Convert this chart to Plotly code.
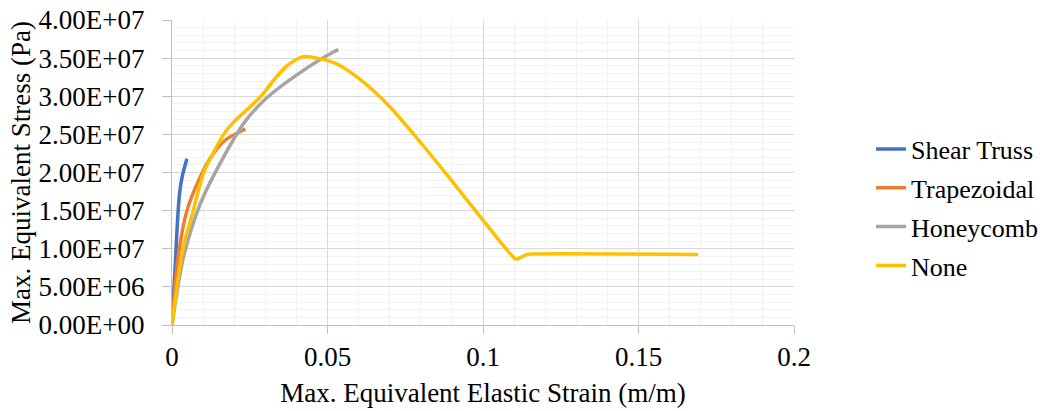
import plotly.graph_objects as go

# Data
shear_x = [0, 0.001, 0.0019, 0.0025, 0.0033, 0.0048]
shear_y = [0, 0.75e7, 1.45e7, 1.75e7, 1.95e7, 2.18e7]

trap_x = [0, 0.002, 0.0048, 0.0086, 0.0125, 0.017, 0.0236]
trap_y = [0, 0.9e7, 1.5e7, 1.9e7, 2.2e7, 2.42e7, 2.57e7]

honey_x = [0, 0.0037, 0.0091, 0.0160, 0.0237, 0.0305, 0.0412, 0.0519, 0.0535]
honey_y = [0, 0.89e7, 1.59e7, 2.16e7, 2.68e7, 2.98e7, 3.31e7, 3.58e7, 3.61e7]

none_x = [0, 0.0035, 0.0065, 0.0102, 0.0123, 0.0166, 0.0198, 0.0284, 0.0327, 0.037,
          0.0423, 0.0466, 0.0507, 0.0541, 0.0605, 0.0701, 0.0798, 0.0894, 0.1001,
          0.1103, 0.1109, 0.1141, 0.1151, 0.1692]
none_y = [0, 1.0e7, 1.45e7, 2.0e7, 2.18e7, 2.5e7, 2.66e7, 2.99e7, 3.21e7, 3.40e7,
          3.52e7, 3.50e7, 3.46e7, 3.40e7, 3.22e7, 2.86e7, 2.40e7, 1.92e7, 1.37e7,
          0.87e7, 0.865e7, 0.925e7, 0.93e7, 0.925e7]

series_names = ["Shear Truss", "Trapezoidal", "Honeycomb", "None"]
series_colors = ["#4472C4", "#ED7D31", "#A5A5A5", "#FFC000"]

y_tickvals = [0, 5e6, 1e7, 1.5e7, 2e7, 2.5e7, 3e7, 3.5e7, 4e7]
y_ticktext = ["0.00E+00", "5.00E+06", "1.00E+07", "1.50E+07", "2.00E+07",
              "2.50E+07", "3.00E+07", "3.50E+07", "4.00E+07"]
x_tickvals = [0, 0.05, 0.1, 0.15, 0.2]
x_ticktext = ["0", "0.05", "0.1", "0.15", "0.2"]

FONT = "Liberation Serif, Times New Roman, serif"
FS = 27

fig = go.Figure()
for name, color, xs, ys in zip(series_names, series_colors,
                               [shear_x, trap_x, honey_x, none_x],
                               [shear_y, trap_y, honey_y, none_y]):
    fig.add_trace(go.Scatter(x=xs, y=ys, mode="lines", name=name,
                             legendgroup=name,
                             line=dict(color=color, width=3.5, shape="spline", smoothing=0.8)))

fig.update_layout(
    width=1047, height=411,
    margin=dict(l=172, r=253, t=20, b=86, autoexpand=False),
    paper_bgcolor="white", plot_bgcolor="white",
    font=dict(family=FONT, size=FS, color="black"),
    legend=dict(x=1.1238, y=0.385, xanchor="left", yanchor="middle",
                font=dict(family=FONT, size=26, color="black"),
                tracegroupgap=2, bgcolor="rgba(0,0,0,0)"),
    showlegend=True,
)
fig.update_xaxes(
    range=[0, 0.2], tickvals=x_tickvals, ticktext=x_ticktext,
    showgrid=True, gridcolor="#D9D9D9", gridwidth=1,
    minor=dict(dtick=0.01, showgrid=True, gridcolor="#F2F2F2", gridwidth=1),
    showline=True, linecolor="#BFBFBF", linewidth=1,
    ticks="outside", ticklen=8, tickcolor="#BFBFBF",
    ticklabelstandoff=0,
    zeroline=False,
    tickfont=dict(family=FONT, size=FS, color="black"),
    title=dict(text="Max. Equivalent Elastic Strain (m/m)", standoff=11,
               font=dict(family=FONT, size=FS, color="black")),
)
fig.update_yaxes(
    range=[0, 4e7], tickvals=y_tickvals, ticktext=y_ticktext,
    showgrid=True, gridcolor="#D9D9D9", gridwidth=1,
    minor=dict(dtick=1e6, tick0=0, showgrid=True, gridcolor="#F2F2F2", gridwidth=1),
    showline=True, linecolor="#BFBFBF", linewidth=1,
    ticks="outside", ticklen=9, tickcolor="#BFBFBF",
    ticklabelstandoff=12,
    zeroline=False,
    tickfont=dict(family=FONT, size=FS, color="black"),
    title=dict(text="Max. Equivalent Stress (Pa)", standoff=0,
               font=dict(family=FONT, size=FS, color="black")),
)

fig.write_html("out.html")
